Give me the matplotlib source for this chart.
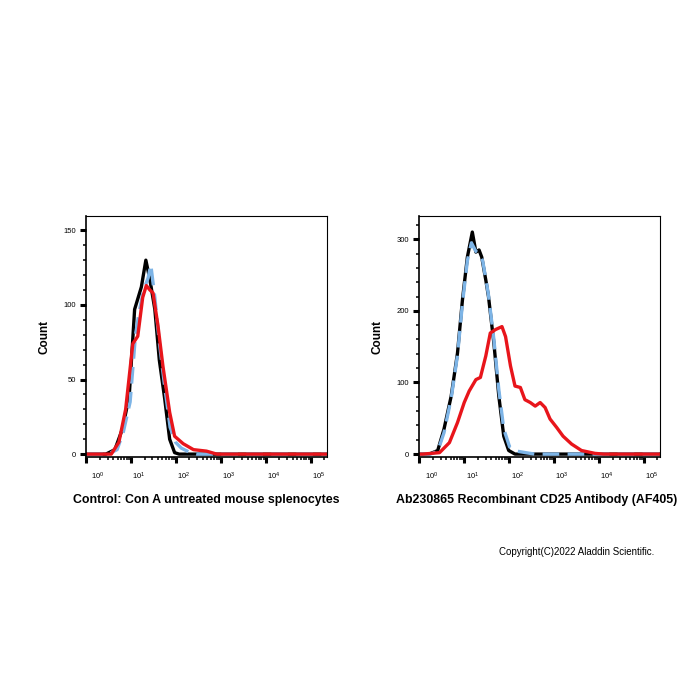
import matplotlib
matplotlib.use("Agg")
import matplotlib.pyplot as plt
import matplotlib.transforms as mtransforms
import numpy as np
from matplotlib.ticker import LogLocator, MultipleLocator

plt.rcParams["font.family"] = ["Liberation Sans", "DejaVu Sans"]

# log10 of fluorescence intensity and counts
left_black_x = [0.0, 0.29, 0.44, 0.64, 0.81, 0.96, 1.08, 1.15, 1.23, 1.33, 1.42, 1.53, 1.63, 1.75, 1.86, 1.97, 2.07, 5.4]
left_black_y = [0, 0, 0, 3, 17, 39, 97, 104, 112, 130, 117, 97, 63, 37, 10, 1, 0, 0]

left_blue_x = [0.0, 0.29, 0.49, 0.69, 0.83, 0.98, 1.1, 1.18, 1.28, 1.38, 1.44, 1.53, 1.63, 1.75, 1.87, 1.99, 2.12, 2.32, 2.47, 5.4]
left_blue_y = [0, 0, 0, 3, 15, 35, 80, 95, 110, 118, 127, 105, 75, 45, 18, 8, 4, 1, 0, 0]

left_red_x = [0.0, 0.29, 0.56, 0.73, 0.88, 1.04, 1.15, 1.26, 1.34, 1.42, 1.49, 1.6, 1.71, 1.86, 1.97, 2.16, 2.39, 2.68, 2.91, 5.4]
left_red_y = [0, 0, 0, 8, 30, 74, 79, 105, 113, 110, 108, 86, 59, 28, 12, 7, 3, 2, 0, 0]

right_black_x = [0.0, 0.22, 0.41, 0.55, 0.71, 0.85, 0.96, 1.07, 1.18, 1.26, 1.33, 1.39, 1.48, 1.54, 1.66, 1.77, 1.88, 1.99, 2.13, 5.4]
right_black_y = [0, 0, 5, 35, 81, 141, 215, 275, 310, 282, 285, 275, 243, 220, 155, 81, 25, 5, 0, 0]

right_blue_x = [0.0, 0.25, 0.41, 0.55, 0.71, 0.85, 0.96, 1.07, 1.16, 1.26, 1.33, 1.41, 1.48, 1.54, 1.66, 1.77, 1.88, 2.01, 2.18, 2.37, 2.57, 5.4]
right_blue_y = [0, 0, 4, 30, 78, 138, 210, 270, 295, 283, 280, 270, 245, 222, 160, 90, 35, 10, 4, 2, 0, 0]

right_red_x = [0.0, 0.08, 0.45, 0.67, 0.85, 1.0, 1.11, 1.26, 1.36, 1.48, 1.58, 1.7, 1.84, 1.92, 2.03, 2.13, 2.25, 2.35,
               2.47, 2.58, 2.69, 2.8, 2.91, 3.06, 3.2, 3.39, 3.61, 3.91, 4.11, 5.4]
right_red_y = [0, 0, 2, 16, 44, 72, 88, 104, 107, 137, 169, 174, 178, 164, 123, 95, 93, 76,
               72, 67, 72, 65, 49, 37, 25, 14, 5, 1, 0, 0]

titles = ["Control: Con A untreated mouse splenocytes",
          "Ab230865 Recombinant CD25 Antibody (AF405)"]

fig = plt.figure(figsize=(7, 7), dpi=100)

panels = [
    dict(pos=[0.123, 0.347, 0.344, 0.344], ylim=(-2, 159.4), major=50, minor=10,
         black=(left_black_x, left_black_y), blue=(left_blue_x, left_blue_y),
         red=(left_red_x, left_red_y), title_x=0.294),
    dict(pos=[0.599, 0.347, 0.344, 0.344], ylim=(-4.2, 332), major=100, minor=20,
         black=(right_black_x, right_black_y), blue=(right_blue_x, right_blue_y),
         red=(right_red_x, right_red_y), title_x=0.767),
]

for i, p in enumerate(panels):
    ax = fig.add_axes(p["pos"])
    bx, by = p["black"]
    ax.plot(10 ** np.array(bx), by, color="black", lw=2.4, solid_joinstyle="round")
    lx, ly = p["blue"]
    ax.plot(10 ** np.array(lx), ly, color="#7db4e6", lw=2.4, dashes=(5, 2.5))
    rx, ry = p["red"]
    ax.plot(10 ** np.array(rx), ry, color="#e8151b", lw=2.4, solid_joinstyle="round")

    ax.set_xscale("log")
    ax.set_xlim(10 ** 0, 10 ** 5.36)
    ax.set_ylim(*p["ylim"])
    ax.xaxis.set_major_locator(LogLocator(base=10, numticks=10))
    ax.xaxis.set_minor_locator(LogLocator(base=10, subs=np.arange(2, 10), numticks=20))
    ax.yaxis.set_major_locator(MultipleLocator(p["major"]))
    ax.yaxis.set_minor_locator(MultipleLocator(p["minor"]))

    ax.tick_params(axis="both", which="major", direction="out", length=4.5, width=2.2,
                   labelsize=5.5, pad=3)
    ax.tick_params(axis="x", which="major", pad=5)
    ax.tick_params(axis="both", which="minor", direction="out", length=2.5, width=1.1)
    for s in ["top", "right"]:
        ax.spines[s].set_linewidth(0.8)
    for s in ["left", "bottom"]:
        ax.spines[s].set_linewidth(1.2)

    # tick labels in the reference sit a little right of their ticks
    fig.canvas.draw()
    for val, lab in zip(ax.get_xticks(), ax.get_xticklabels()):
        dx = 12 if np.isclose(val, 1.0) else 8
        lab.set_transform(lab.get_transform() +
                          mtransforms.ScaledTranslation(dx / 100, 0, fig.dpi_scale_trans))

    ax.set_ylabel("Count", fontsize=8.5, fontweight="bold", labelpad=9)
    fig.text(p["title_x"], 0.286, titles[i], ha="center", va="center",
             fontsize=8.9, fontweight="bold")

fig.text(0.824, 0.212, "Copyright(C)2022 Aladdin Scientific.", ha="center", va="center",
         fontsize=7)

fig.savefig("out.png", dpi=100)
